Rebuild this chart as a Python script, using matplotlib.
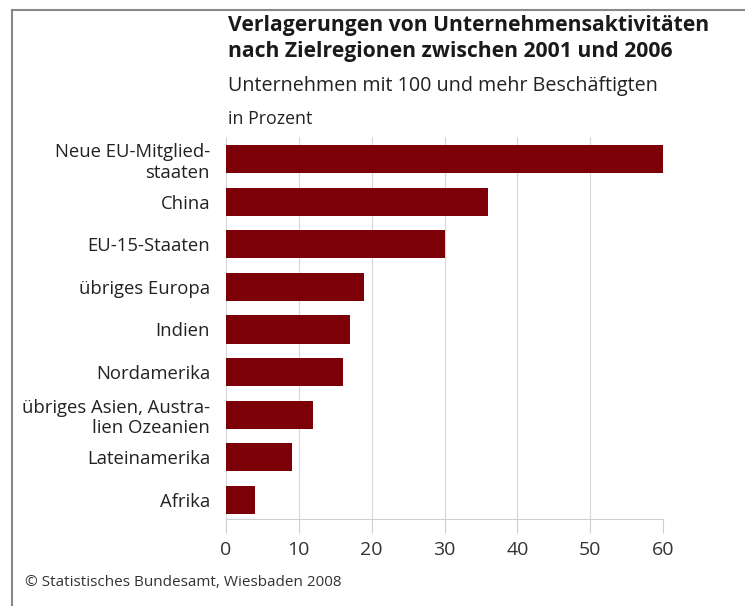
import matplotlib
matplotlib.use("Agg")
import matplotlib.pyplot as plt
from matplotlib.lines import Line2D

categories = ["Neue EU-Mitglied-\nstaaten", "China", "EU-15-Staaten", "übriges Europa",
              "Indien", "Nordamerika", "übriges Asien, Austra-\nlien Ozeanien",
              "Lateinamerika", "Afrika"]
values = [60, 36, 30, 19, 17, 16, 12, 9, 4]
xticks = [0, 10, 20, 30, 40, 50, 60]

title = "Verlagerungen von Unternehmensaktivitäten\nnach Zielregionen zwischen 2001 und 2006"
subtitle = "Unternehmen mit 100 und mehr Beschäftigten"
unit = "in Prozent"
source = "© Statistisches Bundesamt, Wiesbaden 2008"

plt.rcParams['font.family'] = ['Open Sans', 'DejaVu Sans']
W, H = 745, 606
fig = plt.figure(figsize=(W/100, H/100), dpi=100)
fig.patch.set_facecolor("white")

ax = fig.add_axes([226/W, 1-519/H, (663-226)/W, (519-137)/H])
y = list(range(len(categories)))
ax.barh(y, values, height=0.66, color="#7d0009", zorder=3)
ax.set_ylim(len(categories)-1+0.45, -0.52)
ax.set_xlim(0, 60)
ax.set_xticks(xticks)
ax.set_xticklabels([str(t) for t in xticks], fontsize=14, color="#333333")
ax.set_yticks(y)
ax.set_yticklabels(categories, fontsize=13.3, color="#222222", linespacing=1.2)
ax.tick_params(axis='y', length=0, pad=11.5)
ax.tick_params(axis='x', length=10, width=0.8, color="#cfcfcf", pad=6)
ax.grid(axis='x', color="#d6d6d6", linewidth=0.8, zorder=0)
for s in ["top", "right", "left"]:
    ax.spines[s].set_visible(False)
ax.spines["bottom"].set_color("#cfcfcf")
ax.spines["bottom"].set_linewidth(0.8)

fig.text(228/W, 1-15/H, title, fontsize=15.2, fontweight="bold", color="#1a1a1a",
         va="top", ha="left", linespacing=1.3)
fig.text(228/W, 1-76/H, subtitle, fontsize=14.2, color="#222222", va="top", ha="left")
fig.text(228/W, 1-110/H, unit, fontsize=12.8, color="#222222", va="top", ha="left")
fig.text(25/W, 1-582/H, source, fontsize=11, color="#333333", va="center", ha="left")

fig.add_artist(Line2D([12/W, 1], [1-10/H, 1-10/H], color="#888888", linewidth=1.5))
fig.add_artist(Line2D([12/W, 12/W], [0, 1-10/H], color="#888888", linewidth=1.5))

fig.savefig("out.png", dpi=100)
